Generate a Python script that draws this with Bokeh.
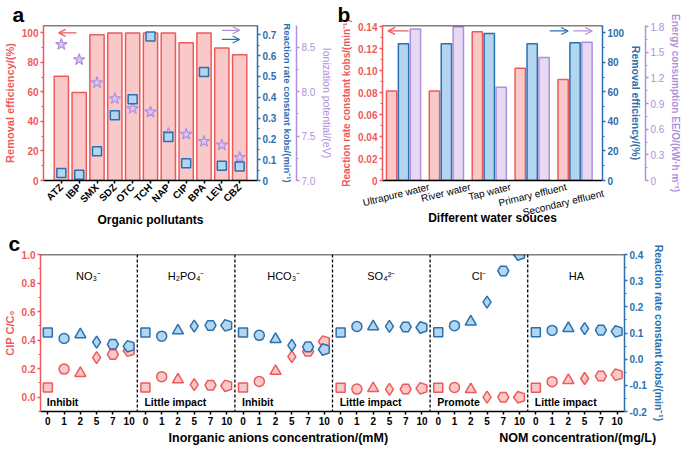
import numpy as np
from bokeh.plotting import figure
from bokeh.models import (Range1d, LinearAxis, FixedTicker, Span, Label, Arrow,
                          OpenHead, PrintfTickFormatter)
from bokeh.layouts import column, row
from bokeh.embed import file_html
from bokeh.resources import INLINE

FONT = "Liberation Sans"
RED = "#EE5A5A"
RED_FILL = "#F9C8C8"
BLUE = "#2A70AE"
BLUE_FILL = "#B2D6EF"
PURPLE = "#B090DD"
PURPLE_FILL = "#E6D9F2"
STAR_FILL = "#D8C6F3"

# ---------------- Panel a data ----------------
pollutants = ["ATZ", "IBP", "SMX", "SDZ", "OTC", "TCH", "NAP", "CIP", "BPA", "LEV", "CBZ"]
removal_a = [70.6, 59.6, 98.8, 100, 100, 100, 100, 93.3, 100, 89.7, 85.2]
kobs_a = [0.036, 0.028, 0.141, 0.314, 0.390, 0.692, 0.209, 0.083, 0.522, 0.071, 0.067]
ip_a = [8.53, 8.36, 8.10, 7.92, 7.81, 7.77, 7.53, 7.52, 7.44, 7.40, 7.26]

# ---------------- Panel b data ----------------
sources = ["Ultrapure water", "River water", "Tap water", "Primary effluent", "Secondary effluent"]
kobs_b = [0.0814, 0.0814, 0.1355, 0.1021, 0.0920]
removal_b = [92.7, 92.7, 99.6, 92.7, 93.3]
eeo_b = [1.773, 1.800, 1.091, 1.439, 1.619]
# layout of the slanted category labels: where each ends, and whether it sits one line lower
src_label_shift = [0.60, 0.56, 0.50, 0.80, 0.635]
src_label_drop = [0, 0, 0, 0, 1]

# ---------------- Panel c data ----------------
groups = ["NO\u2083\u207b", "H\u2082PO\u2084\u207b", "HCO\u2083\u207b", "SO\u2084\u00b2\u207b", "Cl\u207b", "HA"]
effects = ["Inhibit", "Little impact", "Inhibit", "Little impact", "Promote", "Little impact"]
conc_labels = ["0", "1", "2", "5", "7", "10"]
cc0_NO3 = [0.068, 0.197, 0.168, 0.277, 0.300, 0.326]
cc0_H2PO4 = [0.068, 0.144, 0.123, 0.088, 0.084, 0.080]
cc0_HCO3 = [0.068, 0.111, 0.183, 0.285, 0.322, 0.390]
cc0_SO4 = [0.066, 0.057, 0.062, 0.055, 0.057, 0.062]
cc0_Cl = [0.066, 0.068, 0.055, 0.001, 0.000, 0.000]
cc0_HA = [0.066, 0.109, 0.119, 0.131, 0.148, 0.158]
k_NO3 = [0.102, 0.079, 0.094, 0.065, 0.057, 0.049]
k_H2PO4 = [0.102, 0.088, 0.109, 0.126, 0.129, 0.129]
k_HCO3 = [0.102, 0.091, 0.076, 0.053, 0.047, 0.037]
k_SO4 = [0.102, 0.125, 0.125, 0.125, 0.123, 0.121]
k_Cl = [0.103, 0.128, 0.143, 0.218, 0.337, 0.400]
k_HA = [0.103, 0.110, 0.118, 0.117, 0.111, 0.106]
cc0_all = [cc0_NO3, cc0_H2PO4, cc0_HCO3, cc0_SO4, cc0_Cl, cc0_HA]
k_all = [k_NO3, k_H2PO4, k_HCO3, k_SO4, k_Cl, k_HA]
x_title_left = "Inorganic anions concentration/(mM)"
x_title_right = "NOM concentration/(mg/L)"


def base_fig(width, height, xr, yr, mb):
    p = figure(width=width, height=height, x_range=xr, y_range=yr,
               output_backend="svg", toolbar_location=None,
               min_border_left=mb[0], min_border_right=mb[1],
               min_border_top=mb[2], min_border_bottom=mb[3])
    p.xgrid.visible = False
    p.ygrid.visible = False
    p.outline_line_color = None
    return p


def panel_letter(p, txt, dx):
    p.title.text = txt
    p.title.align = "left"
    p.title.offset = dx
    p.title.standoff = 0
    p.title.text_font = FONT
    p.title.text_font_style = "bold"
    p.title.text_font_size = "21px"
    p.title.text_color = "black"


def style_axis(ax, color, title, tsize="11px", tbold=True, lsize="10px"):
    ax.axis_line_color = color
    ax.axis_line_width = 1.5
    ax.major_tick_line_color = color
    ax.major_tick_line_width = 1.5
    ax.minor_tick_line_color = color
    ax.minor_tick_line_width = 1.2
    ax.major_tick_out = 3
    ax.major_tick_in = 0
    ax.minor_tick_out = 2
    ax.minor_tick_in = 0
    ax.major_label_text_color = color
    ax.major_label_text_font = FONT
    ax.major_label_text_font_style = "bold"
    ax.major_label_text_font_size = lsize
    ax.major_label_standoff = 2
    ax.axis_label = title
    ax.axis_label_text_color = color
    ax.axis_label_text_font = FONT
    ax.axis_label_text_font_style = "bold" if tbold else "normal"
    ax.axis_label_text_font_size = tsize
    ax.axis_label_standoff = 3


def ticks(a, b, step):
    return [round(v, 4) for v in np.arange(a, b + step / 2, step)]


# ================= Panel a =================
xa = list(range(1, len(pollutants) + 1))
pa = base_fig(336, 229, Range1d(0, 12), Range1d(0, 105), (32, 76, 0, 44))
panel_letter(pa, "a", -31)
pa.extra_y_ranges = {"k": Range1d(0, 0.745), "ip": Range1d(7.0, 8.744)}
pa.vbar(x=xa, top=removal_a, width=0.8, bottom=0, fill_color=RED_FILL,
        line_color=RED, line_width=1.5)
pa.scatter(xa, ip_a, marker="star", size=12, fill_color=STAR_FILL,
           line_color=PURPLE, line_width=1.2, y_range_name="ip")
pa.scatter(xa, kobs_a, marker="square", size=9, fill_color=BLUE_FILL,
           line_color=BLUE, line_width=1.5, y_range_name="k")

ya = pa.yaxis[0]
ya.ticker = FixedTicker(ticks=ticks(0, 100, 20), minor_ticks=ticks(0, 100, 10))
ya.formatter = PrintfTickFormatter(format="%d")
style_axis(ya, RED, "Removal efficiency/(%)", tsize="11px")

ax_k = LinearAxis(y_range_name="k",
                  ticker=FixedTicker(ticks=ticks(0, 0.7, 0.1), minor_ticks=ticks(0, 0.7, 0.05)),
                  formatter=PrintfTickFormatter(format="%.1f"))
ax_k.major_label_overrides = {0: "0"}
style_axis(ax_k, BLUE, "Reaction rate constant kobs/(min\u207b\u00b9)", tsize="9.5px")
pa.add_layout(ax_k, "right")

ax_ip = LinearAxis(y_range_name="ip",
                   ticker=FixedTicker(ticks=ticks(7.0, 8.5, 0.5), minor_ticks=ticks(7.0, 8.5, 0.25)),
                   formatter=PrintfTickFormatter(format="%.1f"))
style_axis(ax_ip, PURPLE, "Ionization potential/(eV)", tsize="10.5px", tbold=False)
ax_ip.major_label_text_font_style = "normal"
pa.add_layout(ax_ip, "right")

xa_ax = pa.xaxis[0]
xa_ax.ticker = FixedTicker(ticks=xa, minor_ticks=[])
xa_ax.major_label_overrides = {i: n for i, n in zip(xa, pollutants)}
style_axis(xa_ax, "black", "Organic pollutants", tsize="12px")
xa_ax.major_label_orientation = np.pi / 4
xa_ax.axis_label_standoff = 1
pa.add_layout(Span(location=105, dimension="width", line_color="black", line_width=1.5))

pa.add_layout(Arrow(end=OpenHead(size=7, line_color=RED, line_width=1.2),
                    x_start=1.85, y_start=100, x_end=0.85, y_end=100,
                    line_color=RED, line_width=1.2))
pa.add_layout(Arrow(end=OpenHead(size=7, line_color=PURPLE, line_width=1.2),
                    x_start=10.0, y_start=8.69, x_end=11.0, y_end=8.69,
                    line_color=PURPLE, line_width=1.2, y_range_name="ip"))
pa.add_layout(Arrow(end=OpenHead(size=7, line_color=BLUE, line_width=1.2),
                    x_start=10.0, y_start=0.678, x_end=11.0, y_end=0.678,
                    line_color=BLUE, line_width=1.2, y_range_name="k"))

# ================= Panel b =================
xb = np.arange(len(sources))
pb = base_fig(348, 229, Range1d(-0.49, 4.64), Range1d(0, 0.1411), (46, 72, 0, 44))
panel_letter(pb, "b", -45)
pb.extra_y_ranges = {"rem": Range1d(0, 105), "eeo": Range1d(0, 1.814)}
pb.vbar(x=xb - 0.278, top=kobs_b, width=0.24, fill_color=RED_FILL, line_color=RED, line_width=1.5)
pb.vbar(x=xb, top=removal_b, width=0.24, fill_color=BLUE_FILL, line_color=BLUE,
        line_width=1.5, y_range_name="rem")
pb.vbar(x=xb + 0.278, top=eeo_b, width=0.24, fill_color=PURPLE_FILL, line_color=PURPLE,
        line_width=1.5, y_range_name="eeo")

yb = pb.yaxis[0]
yb.ticker = FixedTicker(ticks=ticks(0, 0.14, 0.02), minor_ticks=ticks(0, 0.14, 0.01))
yb.formatter = PrintfTickFormatter(format="%.2f")
yb.major_label_overrides = {0: "0"}
style_axis(yb, RED, "Reaction rate constant kobs/(min\u207b\u00b9)", tsize="10px")

ax_rem = LinearAxis(y_range_name="rem",
                    ticker=FixedTicker(ticks=ticks(0, 100, 20), minor_ticks=ticks(0, 100, 10)),
                    formatter=PrintfTickFormatter(format="%d"))
style_axis(ax_rem, BLUE, "Removal efficiency/(%)", tsize="10.5px")
pb.add_layout(ax_rem, "right")

ax_eeo = LinearAxis(y_range_name="eeo",
                    ticker=FixedTicker(ticks=ticks(0, 1.8, 0.3), minor_ticks=ticks(0, 1.8, 0.15)),
                    formatter=PrintfTickFormatter(format="%.1f"))
ax_eeo.major_label_overrides = {0: "0"}
style_axis(ax_eeo, PURPLE, "Energy consumption EE/O/(kW\u00b7h m\u207b\u00b3)", tsize="10px")
ax_eeo.major_label_text_font_style = "normal"
pb.add_layout(ax_eeo, "right")

xb_ax = pb.xaxis[0]
b_ticks = [float(i) + s for i, s in zip(xb, src_label_shift)]
xb_ax.ticker = FixedTicker(ticks=b_ticks, minor_ticks=[])
xb_ax.major_label_overrides = {t: ("\n" * d) + s for t, s, d in zip(b_ticks, sources, src_label_drop)}
style_axis(xb_ax, "black", "Different water souces", tsize="12px")
xb_ax.major_tick_out = 0
xb_ax.major_label_orientation = 0.24
xb_ax.major_label_standoff = 6
xb_ax.major_label_text_font_style = "normal"
xb_ax.major_label_text_font_size = "10px"
xb_ax.axis_label_standoff = -22
pb.add_layout(Span(location=0.1411, dimension="width", line_color="black", line_width=1.5))
pb.add_layout(Arrow(end=OpenHead(size=7, line_color=RED, line_width=1.2),
                    x_start=0.12, y_start=0.1362, x_end=-0.36, y_end=0.1362,
                    line_color=RED, line_width=1.2))
pb.add_layout(Arrow(end=OpenHead(size=7, line_color=BLUE, line_width=1.2),
                    x_start=3.41, y_start=101.3, x_end=3.84, y_end=101.3,
                    line_color=BLUE, line_width=1.2, y_range_name="rem"))
pb.add_layout(Arrow(end=OpenHead(size=7, line_color=PURPLE, line_width=1.2),
                    x_start=3.96, y_start=1.75, x_end=4.40, y_end=1.75,
                    line_color=PURPLE, line_width=1.2, y_range_name="eeo"))

# ================= Panel c =================
n_g = len(groups)
n_c = len(conc_labels)
pc = base_fig(684, 218, Range1d(-0.45, n_g * n_c - 0.55), Range1d(-0.1, 1.0), (32, 60, 0, 34))
panel_letter(pc, "c", -32)
pc.extra_y_ranges = {"k": Range1d(-0.2, 0.4)}

marker_types = ["square", "circle", "triangle", "diamond", "hex", "pentagon"]
marker_sizes = [9, 10, 11, 12, 11, 11]
has_ngon = hasattr(pc, "ngon")
for j in range(n_c):
    xs = [g * n_c + j for g in range(n_g)]
    yr_ = [cc0_all[g][j] for g in range(n_g)]
    yk_ = [k_all[g][j] for g in range(n_g)]
    mk = marker_types[j]
    for ys, fc, lc, rn in [(yr_, RED_FILL, RED, "default"), (yk_, BLUE_FILL, BLUE, "k")]:
        if mk == "pentagon" and has_ngon:
            pc.ngon(x=xs, y=ys, radius=6, radius_units="screen", n=5, angle=np.pi / 2,
                    fill_color=fc, line_color=lc, line_width=1.5, y_range_name=rn)
        else:
            m = "hex" if mk == "pentagon" else mk
            pc.scatter(xs, ys, marker=m, size=marker_sizes[j], fill_color=fc,
                       line_color=lc, line_width=1.5, y_range_name=rn)

yc = pc.yaxis[0]
yc.ticker = FixedTicker(ticks=ticks(0, 1.0, 0.2), minor_ticks=ticks(-0.1, 1.0, 0.1))
yc.formatter = PrintfTickFormatter(format="%.1f")
style_axis(yc, RED, "CIP C/C\u2080", tsize="11px")

ax_kc = LinearAxis(y_range_name="k",
                   ticker=FixedTicker(ticks=ticks(-0.2, 0.4, 0.1), minor_ticks=ticks(-0.2, 0.4, 0.05)),
                   formatter=PrintfTickFormatter(format="%.1f"))
style_axis(ax_kc, BLUE, "Reaction rate constant kobs/(min\u207b\u00b9)", tsize="10.5px")
pc.add_layout(ax_kc, "right")

NB = "\u00a0"
xc_ax = pc.xaxis[0]
xc_all = list(range(n_g * n_c))
xc_ax.ticker = FixedTicker(ticks=xc_all, minor_ticks=[])
xc_ax.major_label_overrides = {i: conc_labels[i % n_c] for i in xc_all}
style_axis(xc_ax, "black", NB * 46 + x_title_left + NB * 32 + x_title_right, tsize="12.5px")
pc.add_layout(Span(location=1.0, dimension="width", line_color="black", line_width=1.5))

for g in range(n_g):
    if g > 0:
        pc.add_layout(Span(location=g * n_c - 0.5, dimension="height", line_color="black",
                           line_width=1.3, line_dash="3 2"))
    pc.add_layout(Label(x=g * n_c + 2.5, y=0.85, text=groups[g], text_align="center",
                        text_baseline="middle", text_font=FONT, text_font_size="11px",
                        text_color="black"))
    pc.add_layout(Label(x=g * n_c, y=-0.035, x_offset=-1, text=effects[g], text_align="left",
                        text_baseline="middle", text_font=FONT, text_font_style="bold",
                        text_font_size="10.5px", text_color="black"))

layout = column(row(pa, pb), pc)
open("out.html", "w").write(file_html(layout, INLINE))
